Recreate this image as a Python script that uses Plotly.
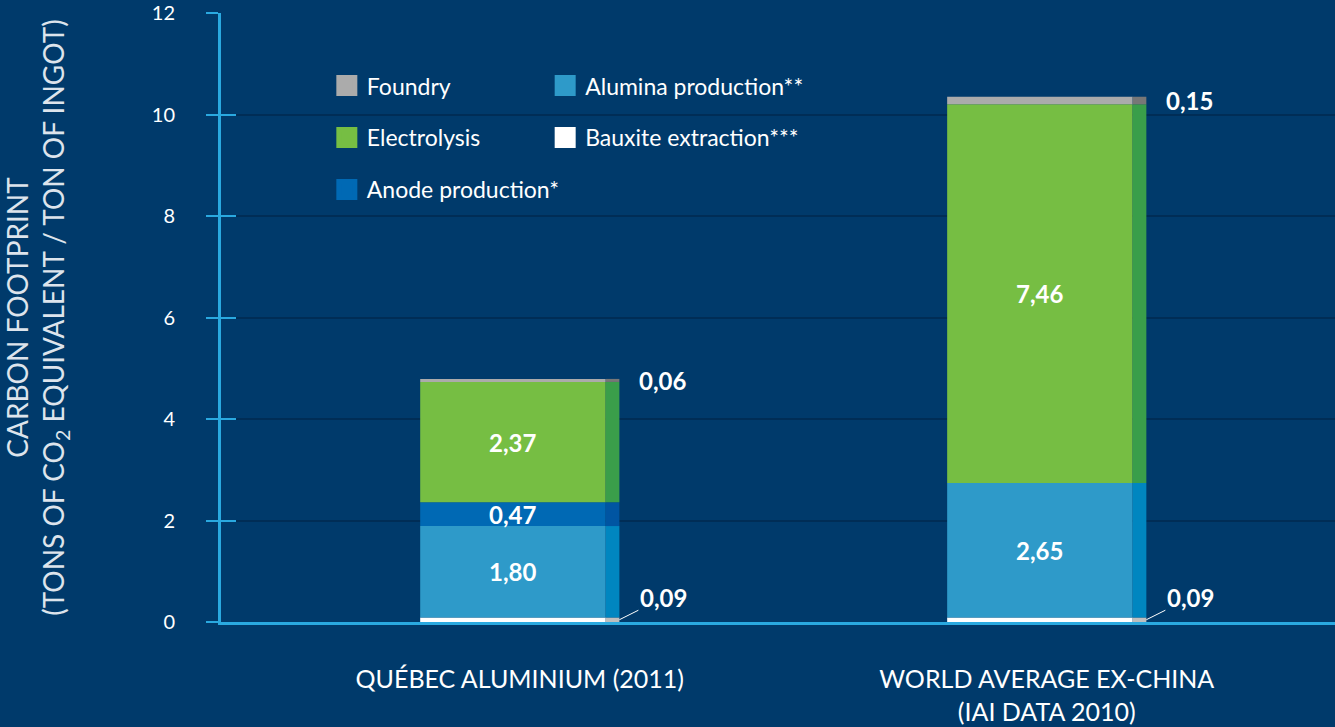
import plotly.graph_objects as go
import numpy as np

# ---- data ----
categories = ["QUÉBEC ALUMINIUM (2011)", "WORLD AVERAGE EX-CHINA<br>(IAI DATA 2010)"]
bauxite = [0.09, 0.09]
alumina = [1.80, 2.65]
anode = [0.47, 0.0]
electrolysis = [2.37, 7.46]
foundry = [0.06, 0.15]
y_ticks = [0, 2, 4, 6, 8, 10, 12]

BG = "#003A6B"
GRID = "#002D56"
AXIS = "#2AA9E0"
FONT = "Lato"

# segments from bottom to top: name, values, main colour, side colour, label inside?
segments = [
    ("Bauxite extraction***", bauxite, "#FFFFFF", "#BEBEBE", False),
    ("Alumina production**", alumina, "#2E9AC9", "#0086C0", True),
    ("Anode production*", anode, "#0069B4", "#0055A2", True),
    ("Electrolysis", electrolysis, "#76BE43", "#3A9E4A", True),
    ("Foundry", foundry, "#ABABAB", "#777777", False),
]

x = np.arange(len(categories), dtype=float)
BAR_W = 0.378
SIDE_W = 0.026
MAIN_W = BAR_W - SIDE_W
OFF = -BAR_W / 2


def fmt(v):
    return f"{v:.2f}".replace(".", ",")


LABEL_FONT = dict(family=FONT, size=24, color="white", weight="bold")

fig = go.Figure()
annotations = []
base = np.zeros(len(categories))
for name, vals, cmain, cside, inside in segments:
    v = np.array(vals, dtype=float)
    fig.add_trace(go.Bar(x=x, y=v, base=base, width=MAIN_W, offset=OFF,
                         marker=dict(color=cmain, line=dict(width=0)),
                         showlegend=False, name=name, hoverinfo="y+name"))
    fig.add_trace(go.Bar(x=x, y=v, base=base, width=SIDE_W, offset=OFF + MAIN_W,
                         marker=dict(color=cside, line=dict(width=0)),
                         showlegend=False, name=name, hoverinfo="skip"))
    for i in range(len(categories)):
        if v[i] <= 0:
            continue
        mid = base[i] + v[i] / 2
        if inside:
            annotations.append(dict(x=x[i] + OFF + MAIN_W / 2, y=mid, text=fmt(v[i]),
                                    showarrow=False, xanchor="center", yanchor="middle",
                                    font=LABEL_FONT))
        elif name.startswith("Foundry"):
            annotations.append(dict(x=x[i] + OFF + BAR_W, y=mid, text=fmt(v[i]),
                                    showarrow=False, xanchor="left", yanchor="middle", xshift=18,
                                    font=LABEL_FONT))
        else:
            annotations.append(dict(x=x[i] + OFF + BAR_W, y=mid, text=fmt(v[i]),
                                    showarrow=True, arrowhead=0, arrowwidth=1, arrowcolor="white",
                                    ax=44, ay=-22, standoff=0,
                                    font=LABEL_FONT))
    base = base + v

# legend entries (legend-only swatches)
legend_map = {"Foundry": "legend", "Electrolysis": "legend", "Anode production*": "legend",
              "Alumina production**": "legend2", "Bauxite extraction***": "legend2"}
order = ["Foundry", "Electrolysis", "Anode production*", "Alumina production**", "Bauxite extraction***"]
seg_by_name = {s[0]: s for s in segments}
for nm in order:
    _, _, cmain, cside, _ = seg_by_name[nm]
    fig.add_trace(go.Scatter(x=[None], y=[None], name=nm, legend=legend_map[nm], legendgroup=nm,
                             mode="markers",
                             marker=dict(symbol="square", size=16, color=cmain,
                                         line=dict(color=cmain, width=5)),
                             hoverinfo="skip"))

LEG = dict(xanchor="left", yanchor="top", bgcolor="rgba(0,0,0,0)",
           font=dict(family=FONT, size=23, color="white"), tracegroupgap=19,
           traceorder="grouped", itemsizing="trace")

fig.update_layout(
    width=1335, height=727,
    paper_bgcolor=BG, plot_bgcolor=BG,
    margin=dict(l=221, r=0, t=13, b=105),
    barmode="overlay",
    font=dict(family=FONT, color="white"),
    xaxis=dict(range=[-0.567, 1.547], tickvals=list(x), ticktext=categories,
               showgrid=False, zeroline=False, showline=True, linecolor=AXIS, linewidth=3,
               ticks="", ticklabelstandoff=33,
               tickfont=dict(family=FONT, size=25, color="white"), fixedrange=True),
    yaxis=dict(range=[0, 12], tickvals=y_ticks, showgrid=True, gridcolor=GRID, gridwidth=2,
               zeroline=False, showline=True, linecolor=AXIS, linewidth=3,
               ticks="outside", ticklen=12, tickwidth=2, tickcolor=AXIS,
               ticklabelstandoff=27,
               tickfont=dict(family=FONT, size=20, color="white"),
               title=dict(text="CARBON FOOTPRINT<br>(TONS OF CO<sub>2</sub> EQUIVALENT / TON OF INGOT)",
                          font=dict(family=FONT, size=28, color="#DDE4EC"), standoff=82)),
    yaxis2=dict(range=[0, 12], tickvals=y_ticks, overlaying="y", anchor="x", side="left",
                showgrid=False, zeroline=False, showline=False, showticklabels=False,
                ticks="inside", ticklen=15, tickwidth=2, tickcolor=AXIS),
    legend=dict(x=0.095, y=0.916, **LEG),
    legend2=dict(x=0.291, y=0.916, **LEG),
    annotations=annotations,
    showlegend=True,
)
# invisible helper so that the inside tick axis is drawn
fig.add_trace(go.Scatter(x=[None], y=[None], yaxis="y2", showlegend=False, hoverinfo="skip"))

fig.write_html("out.html", config={"displayModeBar": False},
               post_script="document.body.style.margin='0px';")
